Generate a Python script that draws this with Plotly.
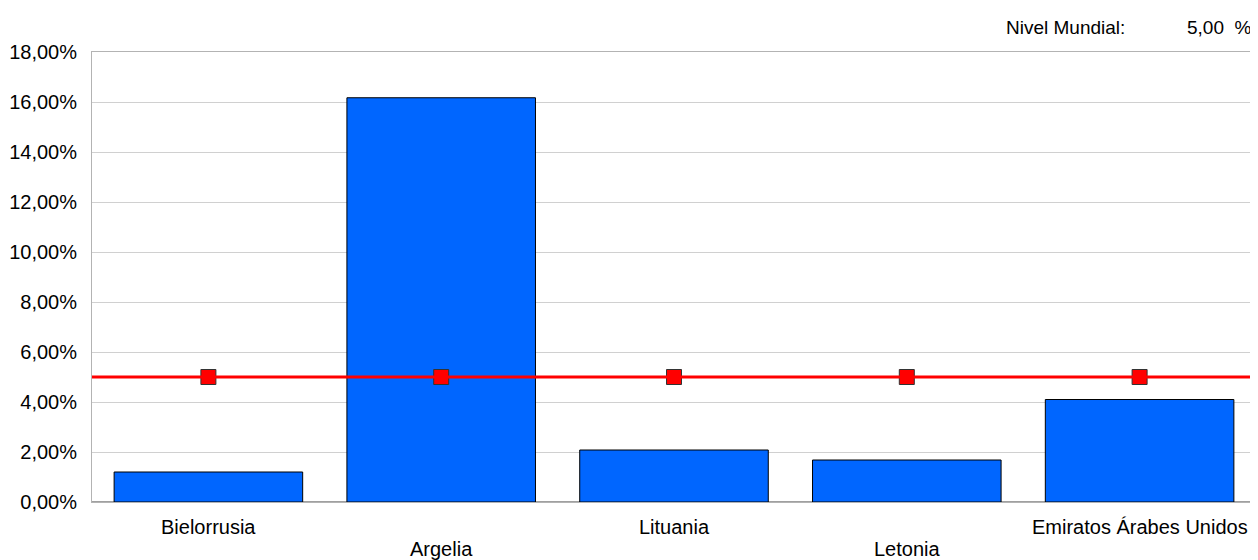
import plotly.graph_objects as go

paises = ["Bielorrusia", "Argelia", "Lituania", "Letonia", "Emiratos Árabes Unidos"]
valores = [1.20, 16.17, 2.08, 1.68, 4.10]
nivel_mundial = 5.00
nivel = [nivel_mundial] * len(paises)

fuente = "Liberation Sans, Arial, sans-serif"

fig = go.Figure()

fig.add_trace(go.Bar(
    x=paises,
    y=valores,
    marker=dict(color="#0066ff", line=dict(color="#000000", width=1)),
    showlegend=False,
    hoverinfo="x+y",
))

# linea del nivel mundial a lo ancho del grafico
fig.add_shape(
    type="line", xref="paper", x0=0, x1=1, yref="y", y0=nivel_mundial, y1=nivel_mundial,
    line=dict(color="#ff0000", width=3), layer="above",
)

fig.add_trace(go.Scatter(
    x=paises,
    y=nivel,
    mode="markers",
    marker=dict(symbol="square", size=15, color="#ff0000", line=dict(color="#333333", width=1)),
    showlegend=False,
))

# etiquetas del eje x alternadas en dos filas
for i, p in enumerate(paises):
    fig.add_annotation(
        x=p, xref="x", y=0, yref="paper",
        text=p, showarrow=False,
        yanchor="middle", yshift=-25 if i % 2 == 0 else -47,
        font=dict(family=fuente, size=20, color="#000000"),
    )

fig.add_annotation(
    x=0.836, xref="paper", y=1, yref="paper", text="Nivel Mundial:",
    showarrow=False, xanchor="center", yanchor="middle", yshift=25,
    font=dict(family=fuente, size=19, color="#000000"),
)
fig.add_annotation(
    x=1, xref="paper", y=1, yref="paper",
    text=f"{nivel_mundial:.2f}".replace(".", ",") + "&nbsp; %",
    showarrow=False, xanchor="right", yanchor="middle", yshift=25, xshift=-2,
    font=dict(family=fuente, size=19, color="#000000"),
)

# la pagina tiene 8 px de margen en el body
fig.update_layout(
    width=1250, height=552,
    margin=dict(l=83, r=1, t=44, b=58),
    paper_bgcolor="white", plot_bgcolor="white",
    bargap=0.19,
    separators=",.",
    font=dict(family=fuente, size=20, color="#000000"),
)
fig.update_xaxes(
    showticklabels=False, showgrid=False,
    showline=True, linecolor="#b3b3b3", linewidth=1, mirror=True,
)
fig.update_yaxes(
    range=[0, 18], dtick=2, tickformat=".2f", ticksuffix="%",
    showgrid=True, gridcolor="#d0d0d0", gridwidth=1,
    showline=True, linecolor="#b3b3b3", linewidth=1, mirror=True,
    zeroline=True, zerolinecolor="#a0a0a0", zerolinewidth=2,
    ticks="", ticklabelstandoff=10,
)

fig.write_html("out.html")
